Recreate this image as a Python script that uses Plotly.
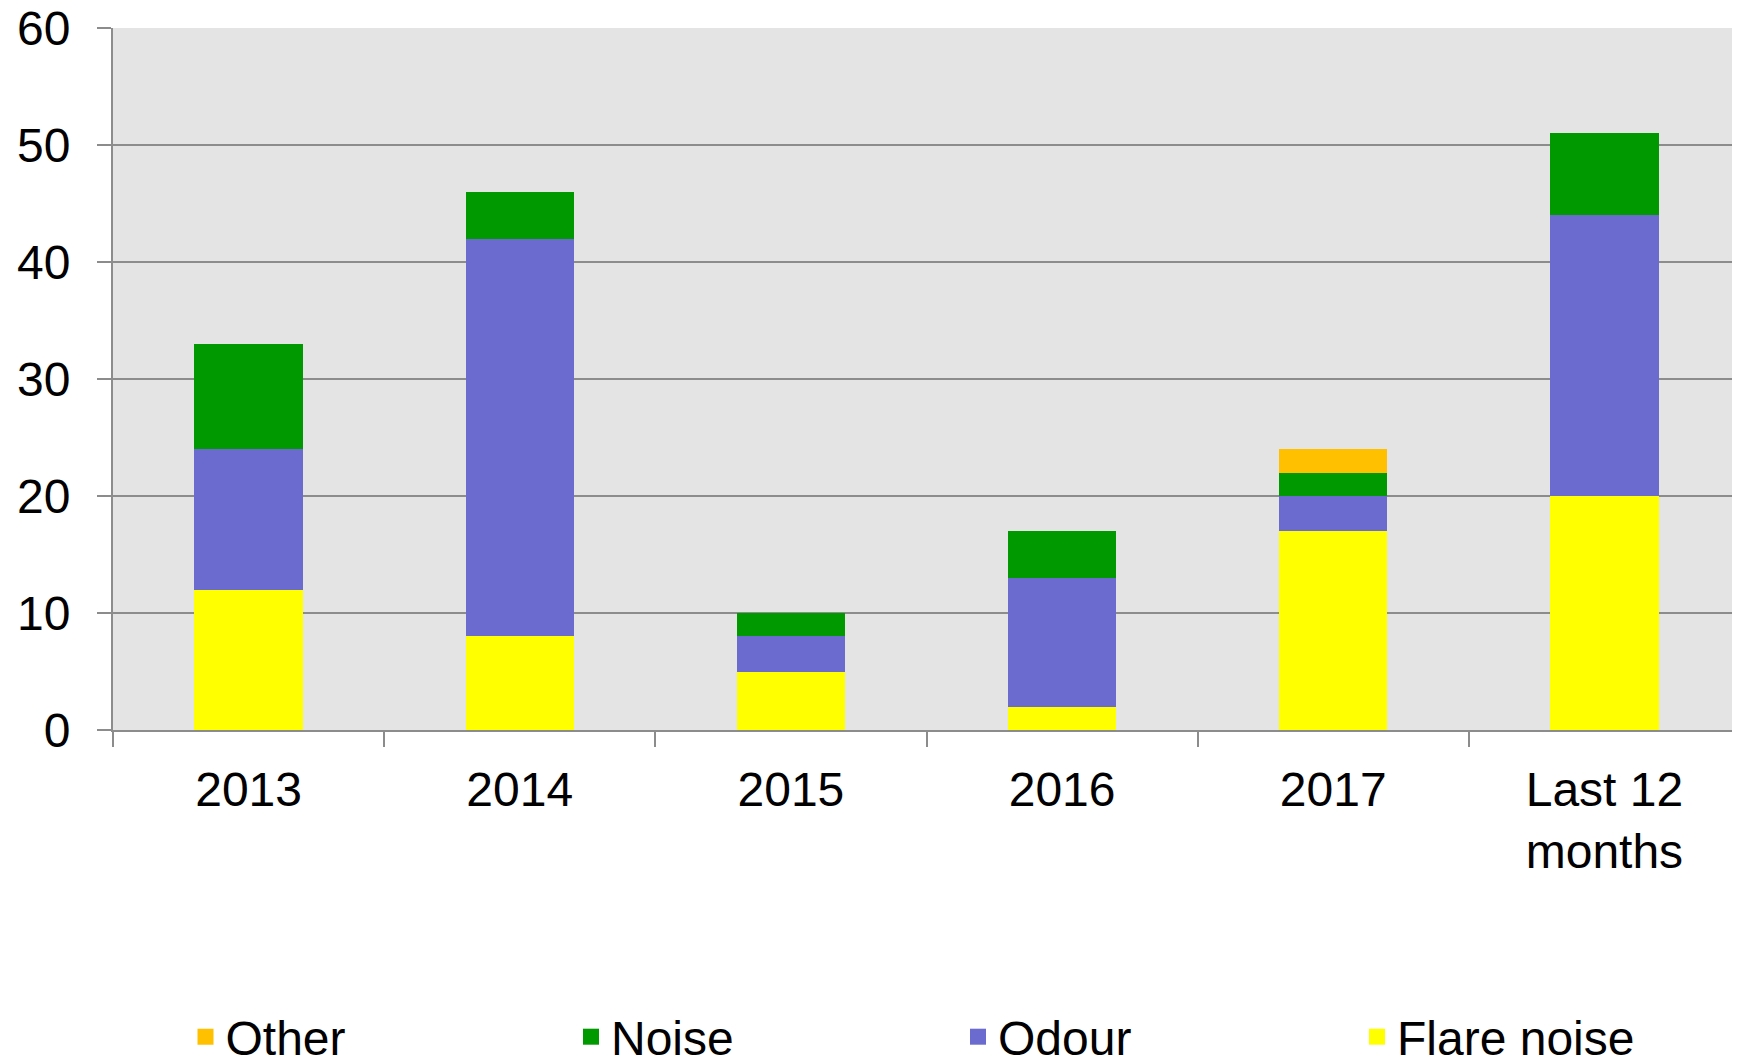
import plotly.graph_objects as go

categories = ["2013", "2014", "2015", "2016", "2017", "Last 12<br>months"]
flare_noise = [12, 8, 5, 2, 17, 20]
odour = [12, 34, 3, 11, 3, 24]
noise = [9, 4, 2, 4, 2, 7]
other = [0, 0, 0, 0, 2, 0]
y_ticks = [0, 10, 20, 30, 40, 50, 60]

series = [
    ("Flare noise", flare_noise, "#FFFF00", "legend4"),
    ("Odour", odour, "#6B6BCF", "legend3"),
    ("Noise", noise, "#009900", "legend2"),
    ("Other", other, "#FFC000", "legend"),
]

FONT = "Liberation Sans, Arial, sans-serif"
W, H = 1732, 1054  # page body has an 8px margin
fig = go.Figure()
for name, vals, col, lg in series:
    fig.add_trace(go.Bar(x=categories, y=vals, name=name, showlegend=False,
                         marker=dict(color=col, line=dict(width=0))))
    # legend swatch (larger square than the default bar swatch)
    fig.add_trace(go.Scatter(x=[None], y=[None], mode="markers", name=name, legend=lg,
                             marker=dict(symbol="square", size=24, color=col, line=dict(width=0))))

legend_left_page = [185.5, 571, 958, 1357]
leg_keys = ["legend", "legend2", "legend3", "legend4"]
legend_y = 1 - (1037 - 8) / H
leg_layout = {}
for key, xp in zip(leg_keys, legend_left_page):
    leg_layout[key] = dict(orientation="h", xref="container", yref="container",
                           x=(xp - 8) / W, xanchor="left", y=legend_y, yanchor="middle",
                           itemsizing="trace", font=dict(size=48), bgcolor="rgba(0,0,0,0)")

fig.update_layout(
    width=W, height=H,
    barmode="stack", bargap=0.6,
    paper_bgcolor="white", plot_bgcolor="#E4E4E4",
    margin=dict(l=105, r=0, t=20, b=332, autoexpand=False),
    font=dict(family=FONT, size=48, color="black"),
    showlegend=True,
    **leg_layout,
)
fig.update_yaxes(range=[0, 60], tickvals=y_ticks, showgrid=True, gridcolor="#8C8C8C", gridwidth=2,
                 showline=True, linecolor="#8C8C8C", linewidth=2, ticks="outside", ticklen=14,
                 tickcolor="#8C8C8C", tickwidth=2, zeroline=False, ticklabelstandoff=17,
                 ticklabeloverflow="allow", tickfont=dict(size=48), automargin=False)
fig.update_xaxes(showline=True, linecolor="#8C8C8C", linewidth=2, ticks="outside", tickson="boundaries",
                 ticklen=15, tickcolor="#8C8C8C", tickwidth=2, showgrid=False, ticklabelstandoff=16,
                 ticklabeloverflow="allow", tickfont=dict(size=48), automargin=False)

fig.write_html("out.html")
